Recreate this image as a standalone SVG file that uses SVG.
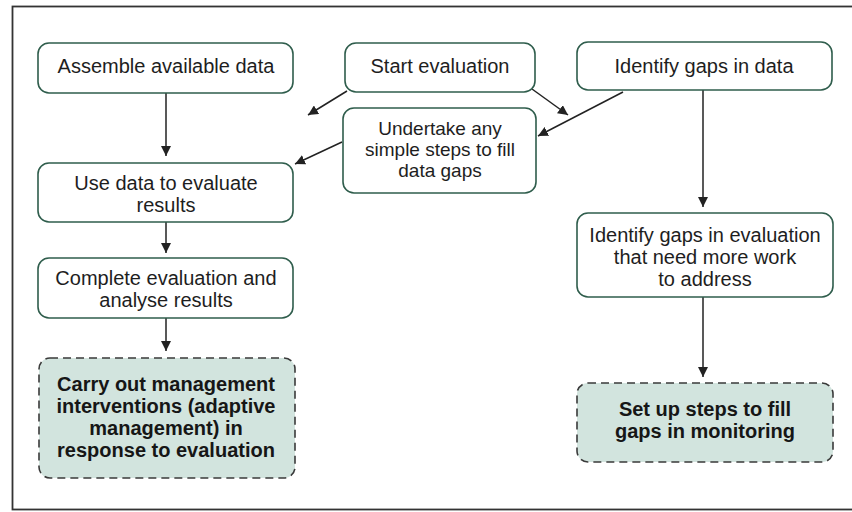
<svg xmlns="http://www.w3.org/2000/svg" width="852" height="512" viewBox="0 0 852 512">
  <defs>
    <marker id="arrow" viewBox="0 0 10 10" refX="10" refY="5" markerWidth="10" markerHeight="10" markerUnits="userSpaceOnUse" orient="auto">
      <path d="M0,0 L10,5 L0,10 Z" fill="#222"/>
    </marker>
    <style>
      .step { fill: #ffffff; stroke: #2f5d4c; stroke-width: 1.6; }
      .action { fill: #d2e4de; stroke: #3a3a3a; stroke-width: 1.6; stroke-dasharray: 8 5; }
      .label { font-family: "Liberation Sans", Arial, sans-serif; font-size: 20px; fill: #1e1e1e; text-anchor: middle; }
      .tight { font-size: 19px; }
      .bold { font-weight: bold; fill: #161616; }
      .link { fill: none; stroke: #222; stroke-width: 1.5; marker-end: url(#arrow); }
    </style>
  </defs>

  <rect x="0" y="0" width="852" height="512" fill="#ffffff"/>
  <!-- outer frame -->
  <rect x="12.5" y="6.5" width="842" height="503" fill="none" stroke="#333" stroke-width="1.8"/>

  <g id="connectors">
    <line class="link" x1="166" y1="93" x2="166" y2="156"/>
    <line class="link" x1="166" y1="222" x2="166" y2="253"/>
    <line class="link" x1="166" y1="318" x2="166" y2="351"/>
    <line class="link" x1="347" y1="91" x2="308" y2="115"/>
    <line class="link" x1="532" y1="89" x2="568" y2="115"/>
    <line class="link" x1="623" y1="92" x2="538" y2="136"/>
    <line class="link" x1="342" y1="142" x2="295" y2="164"/>
    <line class="link" x1="703" y1="90" x2="703" y2="207"/>
    <line class="link" x1="703" y1="297" x2="703" y2="377"/>
  </g>

  <g id="assemble">
    <rect class="step" x="38" y="43" width="255" height="50" rx="11"/>
    <text class="label" x="166" y="73">Assemble available data</text>
  </g>

  <g id="start">
    <rect class="step" x="345" y="43" width="190" height="49" rx="11"/>
    <text class="label" x="440" y="73">Start evaluation</text>
  </g>

  <g id="identify-data-gaps">
    <rect class="step" x="577" y="42" width="255" height="48" rx="11"/>
    <text class="label" x="704" y="73">Identify gaps in data</text>
  </g>

  <g id="simple-steps">
    <rect class="step" x="343" y="108" width="193" height="85" rx="11"/>
    <text class="label tight" x="440" y="135">Undertake any</text>
    <text class="label tight" x="440" y="156">simple steps to fill</text>
    <text class="label tight" x="440" y="177">data gaps</text>
  </g>

  <g id="use-data">
    <rect class="step" x="38" y="163" width="255" height="59" rx="11"/>
    <text class="label" x="166" y="190">Use data to evaluate</text>
    <text class="label" x="166" y="212">results</text>
  </g>

  <g id="complete">
    <rect class="step" x="38" y="258" width="255" height="60" rx="11"/>
    <text class="label" x="166" y="285">Complete evaluation and</text>
    <text class="label" x="166" y="307">analyse results</text>
  </g>

  <g id="interventions">
    <rect class="action" x="39" y="358" width="256" height="120" rx="11"/>
    <text class="label bold" x="166" y="391">Carry out management</text>
    <text class="label bold" x="166" y="413">interventions (adaptive</text>
    <text class="label bold" x="166" y="435">management) in</text>
    <text class="label bold" x="166" y="457">response to evaluation</text>
  </g>

  <g id="evaluation-gaps">
    <rect class="step" x="577" y="213" width="256" height="84" rx="11"/>
    <text class="label" x="705" y="242">Identify gaps in evaluation</text>
    <text class="label" x="705" y="264">that need more work</text>
    <text class="label" x="705" y="286">to address</text>
  </g>

  <g id="monitoring">
    <rect class="action" x="577" y="383" width="256" height="79" rx="11"/>
    <text class="label bold" x="705" y="416">Set up steps to fill</text>
    <text class="label bold" x="705" y="438">gaps in monitoring</text>
  </g>
</svg>
